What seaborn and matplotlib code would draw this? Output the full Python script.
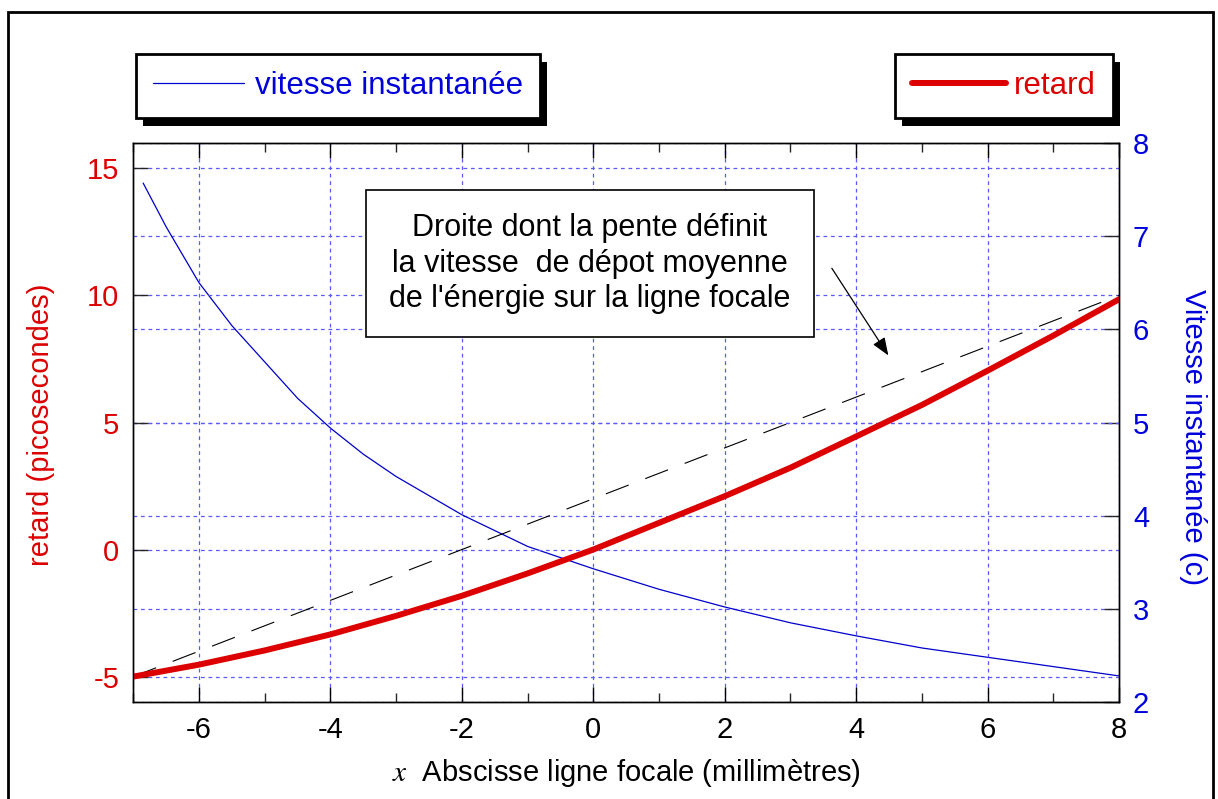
import numpy as np
import pandas as pd
import matplotlib
matplotlib.use('Agg')
import matplotlib.pyplot as plt
import matplotlib.patheffects as pe
from matplotlib.lines import Line2D
from matplotlib.patches import Rectangle
from matplotlib.ticker import MultipleLocator
import seaborn as sns

# data
x_retard = [-7, -6, -5, -4, -3, -2, -1, 0, 1, 2, 3, 4, 5, 6, 7, 8]
retard = [-5.0, -4.53, -3.97, -3.34, -2.61, -1.82, -0.94, 0.0,
          1.05, 2.10, 3.22, 4.45, 5.69, 7.04, 8.42, 9.85]

x_vitesse = [-6.85, -6.5, -6, -5.5, -5, -4.5, -4, -3.5, -3, -2, -1, 0,
             1, 2, 3, 4, 5, 6, 7, 8]
vitesse = [7.57, 7.10, 6.50, 6.04, 5.65, 5.26, 4.94, 4.66, 4.42, 4.01, 3.67, 3.43,
           3.21, 3.02, 2.85, 2.71, 2.58, 2.48, 2.38, 2.28]

x_droite = [-7, 8]
droite = [-5, 10]

x_ticks = [-6, -4, -2, 0, 2, 4, 6, 8]
retard_ticks = [-5, 0, 5, 10, 15]
vitesse_ticks = [2, 3, 4, 5, 6, 7, 8]

annot_text = "Droite dont la pente définit\nla vitesse  de dépot moyenne\nde l'énergie sur la ligne focale"

RED = '#dd0000'
BLUE = '#0000dd'
GRID = '#5a5aff'

sns.set_theme(style='white')
plt.rcParams['font.family'] = ['Liberation Sans', 'DejaVu Sans']
plt.rcParams['mathtext.fontset'] = 'stix'
plt.rcParams['axes.unicode_minus'] = False
plt.rcParams['text.color'] = 'black'

fig = plt.figure(figsize=(12.18, 7.99), dpi=100)
W, H = 1218, 799
ax = fig.add_axes([133.3 / W, 1 - 702 / H, (1119 - 133.3) / W, (702 - 143) / H])
ax2 = ax.twinx()
ax.set_zorder(ax2.get_zorder() + 1)
ax.patch.set_visible(False)

# curves
sns.lineplot(x=x_vitesse, y=vitesse, ax=ax2, color='#0000cc', lw=0.9)
sns.lineplot(x=x_droite, y=droite, ax=ax, color='black', lw=0.8, linestyle=(0, (22, 16)))
sns.lineplot(x=x_retard, y=retard, ax=ax, color=RED, lw=4.3)

ax.set_xlim(-7, 8)
ax.set_ylim(-6, 16)
ax2.set_ylim(2, 8)
ax.set_xticks(x_ticks)
ax.xaxis.set_minor_locator(MultipleLocator(1))
ax.set_yticks(retard_ticks)
ax2.set_yticks(vitesse_ticks)

for a in (ax, ax2):
    for s in a.spines.values():
        s.set_color('black')
        s.set_linewidth(1.0)

ax.tick_params(axis='x', which='major', direction='in', length=11, width=1,
               top=True, bottom=True, labelsize=21, pad=10, colors='black')
ax.tick_params(axis='x', which='minor', direction='in', length=6.5, width=1,
               top=True, bottom=True)
ax.tick_params(axis='y', direction='in', length=11, width=1, left=True, right=False,
               labelsize=21, pad=10, labelcolor=RED)
ax2.tick_params(axis='y', direction='in', length=11, width=1, right=True, left=False,
                labelsize=21, pad=10, labelcolor=BLUE)

ax.grid(True, which='major', axis='both', color=GRID, ls=(0, (3, 3)), lw=0.9)
ax2.grid(True, which='major', axis='y', color=GRID, ls=(0, (3, 3)), lw=0.9)

ax.set_xlabel(r'$x$  Abscisse ligne focale (millimètres)', fontsize=21, color='black',
              va='center')
ax.xaxis.set_label_coords(0.5, (702 - 773) / 559)
ax.set_ylabel('retard (picosecondes)', fontsize=21, color=RED)
ax.yaxis.set_label_coords((55 - 133.3) / 985.7, 0.495)
ax2.set_ylabel('Vitesse instantanée (c)', fontsize=21, color=BLUE, rotation=270,
               va='center', ha='center')
ax2.yaxis.set_label_coords((1193 - 133.3) / 985.7, 0.474)

# text box and arrow
ax.text(-0.05, 11.25, annot_text, ha='center', va='center', multialignment='center',
        fontsize=22, linespacing=1.25, zorder=5, color='black',
        bbox=dict(boxstyle='square,pad=0.75', fc='white', ec='black', lw=1.2))
ax.annotate('', xy=(4.49, 7.64), xytext=(3.63, 11.07), zorder=5,
            arrowprops=dict(arrowstyle='-|>,head_length=0.9,head_width=0.35',
                            color='black', lw=0.9, shrinkA=0, shrinkB=0))

# legends with hard shadows
shadow = [pe.SimplePatchShadow(offset=(5, -5.5), shadow_rgbFace='black', alpha=1.0), pe.Normal()]
h_v = Line2D([], [], color='#0000cc', lw=0.9)
h_r = Line2D([], [], color=RED, lw=4.3)
leg1 = fig.legend([h_v], ['vitesse instantanée'], loc='upper left',
                  bbox_to_anchor=(136 / W, 1 - 54 / H), borderaxespad=0, fontsize=22.5,
                  frameon=True, fancybox=False, framealpha=1, edgecolor='black',
                  handlelength=2.9, handletextpad=0.35, borderpad=0.55, labelcolor=BLUE)
leg2 = fig.legend([h_r], ['retard'], loc='upper left',
                  bbox_to_anchor=(895 / W, 1 - 54 / H), borderaxespad=0, fontsize=22.5,
                  frameon=True, fancybox=False, framealpha=1, edgecolor='black',
                  handlelength=3.0, handletextpad=0.25, borderpad=0.55, labelcolor=RED)
for leg in (leg1, leg2):
    leg.get_frame().set_linewidth(2.0)
    leg.get_frame().set_path_effects(shadow)

# outer frame
fig.patches.append(Rectangle((8 / W, -0.05), (1213 - 8) / W, (799 - 12) / H + 0.05,
                             transform=fig.transFigure, fill=False, lw=2, ec='black'))

fig.savefig('out.png', dpi=100)
